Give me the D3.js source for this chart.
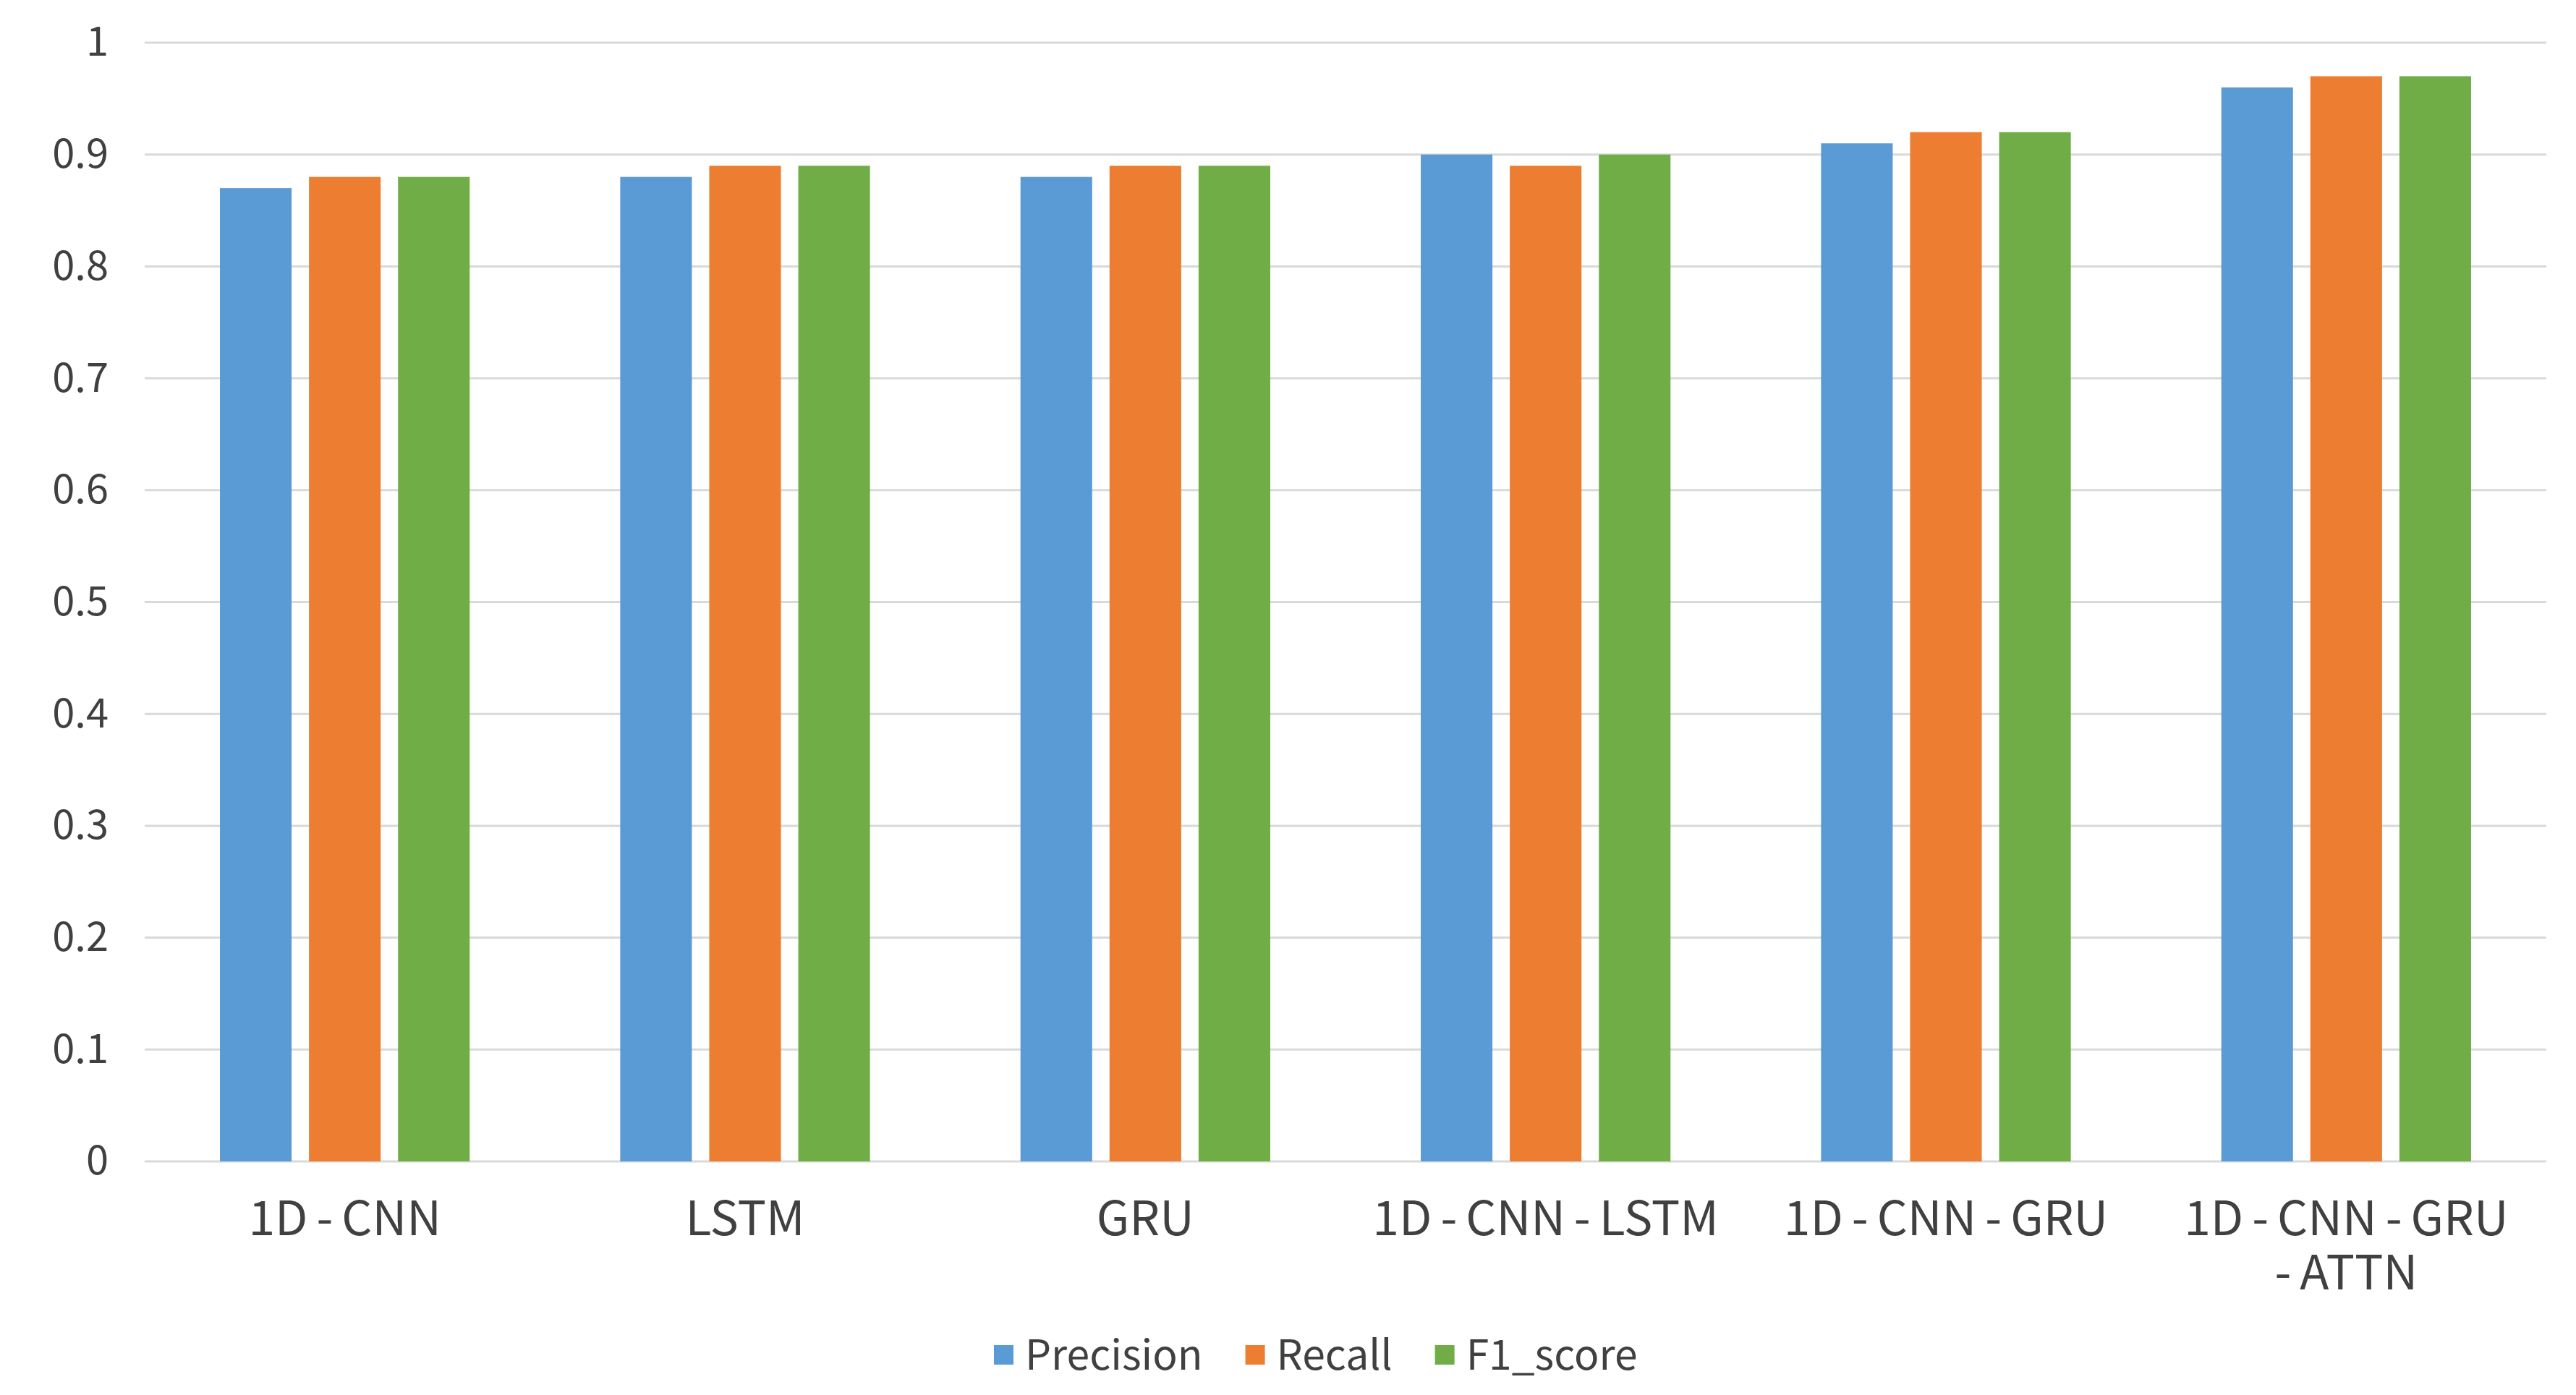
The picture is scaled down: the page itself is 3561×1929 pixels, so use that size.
<!DOCTYPE html>
<html>
<head>
<meta charset="utf-8">
<script src="https://cdn.jsdelivr.net/npm/d3@7"></script>
<style>
  html, body { margin: 0; padding: 0; background: #ffffff; }
  svg { display: block; }
</style>
</head>
<body>
<svg id="chart" width="3561" height="1929"></svg>
<script>
const categories = ["1D-CNN", "LSTM", "GRU", "1D-CNN-LSTM", "1D-CNN-GRU", "1D-CNN-GRU\n-ATTN"];
const seriesNames = ["Precision", "Recall", "F1_score"];
const precision = [0.87, 0.88, 0.88, 0.90, 0.91, 0.96];
const recall    = [0.88, 0.89, 0.89, 0.89, 0.92, 0.97];
const f1score   = [0.88, 0.89, 0.89, 0.90, 0.92, 0.97];
const colors = ["#5B9BD5", "#ED7D31", "#70AD47"];
const yTicks = [0, 0.1, 0.2, 0.3, 0.4, 0.5, 0.6, 0.7, 0.8, 0.9, 1];
const yTickLabels = ["0", "0.1", "0.2", "0.3", "0.4", "0.5", "0.6", "0.7", "0.8", "0.9", "1"];

const seriesValues = [precision, recall, f1score];
const FONT = "'Noto Sans CJK SC', 'Noto Sans', sans-serif";

const svg = d3.select("#chart");
const margin = { left: 200, right: 41, top: 59, bottom: 323 };
const W = 3561, H = 1929;
const x0 = margin.left, x1 = W - margin.right;
const yTop = margin.top, yBot = H - margin.bottom;

const x = d3.scaleBand().domain(d3.range(categories.length)).range([x0, x1])
  .paddingInner(0.376).paddingOuter(0.188);
const xs = d3.scaleBand().domain(d3.range(seriesNames.length)).range([0, x.bandwidth()])
  .paddingInner(0.195).paddingOuter(0);
const y = d3.scaleLinear().domain([0, 1]).range([yBot, yTop]);

// gridlines
svg.append("g").selectAll("line").data(yTicks).join("line")
  .attr("x1", x0).attr("x2", x1)
  .attr("y1", d => y(d)).attr("y2", d => y(d))
  .attr("stroke", "#d9d9d9").attr("stroke-width", 3);

// y axis labels
const yAxis = d3.axisLeft(y).tickValues(yTicks).tickFormat((d, i) => yTickLabels[i]).tickSize(0).tickPadding(50);
const ya = svg.append("g").attr("transform", `translate(${x0},0)`).call(yAxis);
ya.select(".domain").remove();
ya.selectAll("text").attr("font-family", FONT).attr("font-size", 56).attr("fill", "#404040");

// bars
const groups = svg.append("g").selectAll("g").data(categories).join("g")
  .attr("transform", (d, i) => `translate(${x(i)},0)`);
groups.selectAll("rect").data((d, i) => seriesValues.map((s, k) => ({ k, v: s[i] }))).join("rect")
  .attr("x", d => xs(d.k)).attr("width", xs.bandwidth())
  .attr("y", d => y(d.v)).attr("height", d => y(0) - y(d.v))
  .attr("fill", d => colors[d.k]);

// category labels (hyphens spaced as in the original)
const GAP = 12;
const catG = svg.append("g");
categories.forEach((c, i) => {
  const cxm = x(i) + x.bandwidth() / 2;
  const t = catG.append("text")
    .attr("y", 1708)
    .attr("text-anchor", "middle")
    .attr("font-family", FONT).attr("font-size", 66).attr("fill", "#404040");
  c.split("\n").forEach((ln, li) => {
    const tokens = [];
    ln.split("-").forEach((p, pi) => {
      if (pi > 0) tokens.push("-");
      if (p !== "") tokens.push(p);
    });
    tokens.forEach((tok, ti) => {
      const ts = t.append("tspan").text(tok);
      if (ti === 0) ts.attr("x", cxm).attr("dy", li === 0 ? 0 : 75);
      else ts.attr("dx", GAP);
    });
  });
});

// legend
const leg = svg.append("g").attr("transform", "translate(1374,1874)");
let cx = 0;
seriesNames.forEach((n, k) => {
  leg.append("rect").attr("x", cx).attr("y", -14).attr("width", 27).attr("height", 27).attr("fill", colors[k]);
  const t = leg.append("text").attr("x", cx + 43).attr("y", 0).attr("dy", "0.35em")
    .attr("font-family", FONT).attr("font-size", 57).attr("fill", "#404040").text(n);
  cx += 43 + t.node().getComputedTextLength() + 59;
});
</script>
</body>
</html>
